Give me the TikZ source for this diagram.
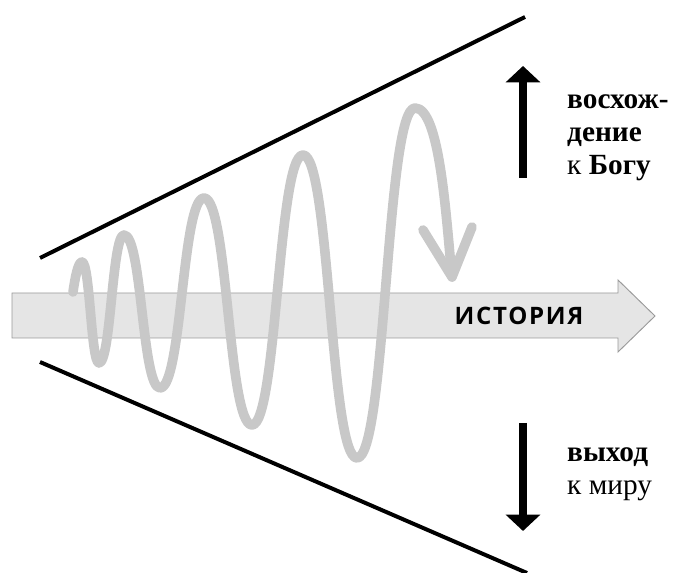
\documentclass[tikz,border=0pt]{standalone}
\usepackage{fontspec}
\setmainfont{Liberation Serif}
\newfontfamily\histfont[LetterSpace=7]{Open Sans}
\usepackage{xcolor}
\usetikzlibrary{arrows.meta}
\definecolor{wavegray}{HTML}{C8C8C8}
\definecolor{bandfill}{HTML}{E5E5E5}
\definecolor{bandline}{HTML}{9A9A9A}

\begin{document}
\begin{tikzpicture}[x=0.03cm,y=0.03cm]
\tikzstyle{bound}=[line width=3.4pt]
\tikzstyle{wave}=[draw=wavegray,line width=8.2pt,line cap=round,line join=round]
\tikzstyle{dir}=[line width=6.8pt,-{Triangle[length=14pt,width=29pt]}]
\tikzstyle{caption}=[anchor=north west,inner sep=0pt,align=left,font=\fontsize{25pt}{28.5pt}\selectfont]

\useasboundingbox (0,0) rectangle (673,573);

\draw[bound] (40,315) -- (525,556);
\draw[bound] (40,211) -- (527,0);

\draw[fill=bandfill,draw=bandline,line width=0.8pt] (12,280) -- (618,280) -- (618,293) -- (655,257) -- (618,221) -- (618,235) -- (12,235) -- cycle;
\node[font=\histfont\bfseries\fontsize{20.5pt}{22pt}\selectfont] (hist) at (519,257) {ИСТОРИЯ};

\coordinate (w0) at (73,281);
\coordinate (p1) at (82,311);
\coordinate (t1) at (99,210);
\coordinate (p2) at (124,338);
\coordinate (t2) at (160,185);
\coordinate (p3) at (204,375);
\coordinate (t3) at (252,148);
\coordinate (p4) at (303,418);
\coordinate (t4) at (357,115);
\coordinate (p5) at (415,465);
\coordinate (tip) at (452,296);
\coordinate (a1) at (423,343);
\coordinate (a2) at (472,346);

\draw[wave] (w0) .. controls +(2,14) and +(-4,0) .. (p1)
  .. controls +(8,0) and +(-8,0) .. (t1)
  .. controls +(12,0) and +(-12,0) .. (p2)
  .. controls +(18,0) and +(-18,0) .. (t2)
  .. controls +(22,0) and +(-22,0) .. (p3)
  .. controls +(24,0) and +(-24,0) .. (t3)
  .. controls +(25,0) and +(-25,0) .. (p4)
  .. controls +(27,0) and +(-27,0) .. (t4)
  .. controls +(29,0) and +(-29,0) .. (p5)
  .. controls +(25,0) and +(-6,60) .. (tip);
\draw[wave] (a1) -- (tip) -- (a2);

\draw[dir] (523,395) -- (523,507);
\draw[dir] (523,150) -- (523,42);

\node[caption] (up) at (567,479) {\textbf{восхож-}\\\textbf{дение}\\к \textbf{Богу}};
\node[caption] (down) at (567,126) {\textbf{выход}\\к миру};

\end{tikzpicture}
\end{document}
